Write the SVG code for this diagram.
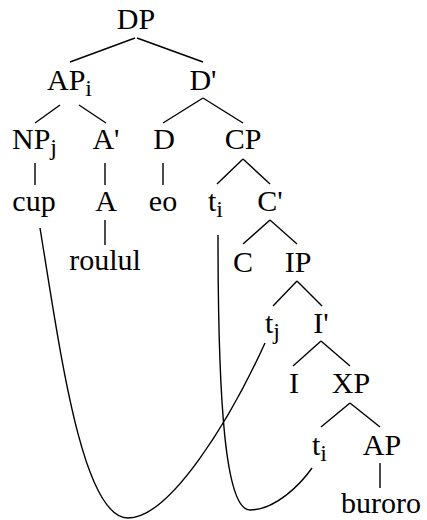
<svg xmlns="http://www.w3.org/2000/svg" width="427" height="520" viewBox="0 0 427 520">
<style>
text{font-family:"Liberation Serif","Times New Roman",serif;font-size:30px;fill:#000}
.m{text-anchor:middle}
.s{font-size:24px}
line,path{stroke:#000;stroke-width:1.4;fill:none}
</style>
<rect width="427" height="520" fill="#fff"/>
<g id="connectors">
<line x1="135" y1="38" x2="70" y2="62"/>
<line x1="137" y1="38" x2="203" y2="62"/>
<line x1="60" y1="105" x2="35" y2="123"/>
<line x1="79" y1="105" x2="106" y2="123"/>
<line x1="203" y1="98" x2="163" y2="123"/>
<line x1="203" y1="98" x2="243" y2="123"/>
<line x1="35" y1="163" x2="35" y2="185"/>
<line x1="105" y1="163" x2="105" y2="185"/>
<line x1="163" y1="163" x2="163" y2="185"/>
<line x1="243" y1="159" x2="217" y2="184"/>
<line x1="243" y1="159" x2="270" y2="184"/>
<line x1="105" y1="220" x2="105" y2="245"/>
<line x1="270" y1="220" x2="243" y2="244"/>
<line x1="270" y1="220" x2="297" y2="244"/>
<line x1="297" y1="281" x2="273" y2="306"/>
<line x1="297" y1="281" x2="322" y2="306"/>
<line x1="321" y1="341" x2="293" y2="366"/>
<line x1="321" y1="341" x2="350" y2="366"/>
<line x1="350" y1="403" x2="321" y2="427"/>
<line x1="350" y1="403" x2="380" y2="427"/>
<line x1="380" y1="463" x2="380" y2="488"/>
<path d="M40,228 C60,350 82,518 128,518 C170,518 230,420 265,343"/>
<path d="M218,235 C218,400 225,510 250,510 C275,510 300,485 312,468"/>
</g>
<g id="DP"><text class="m" x="136" y="29">DP</text></g>
<g id="APi"><text x="47" y="90">AP<tspan class="s" dy="6">i</tspan></text></g>
<g id="Dbar"><text class="m" x="203" y="90">D'</text></g>
<g id="NPj"><text x="12" y="149">NP<tspan class="s" dy="6">j</tspan></text></g>
<g id="Abar"><text class="m" x="106" y="149">A'</text></g>
<g id="D"><text class="m" x="164" y="149">D</text></g>
<g id="CP"><text class="m" x="243" y="149">CP</text></g>
<g id="cup"><text class="m" x="34" y="211">cup</text></g>
<g id="A"><text class="m" x="106" y="211">A</text></g>
<g id="eo"><text class="m" x="163" y="211">eo</text></g>
<g id="ti1"><text x="208" y="211">t<tspan class="s" dy="6">i</tspan></text></g>
<g id="Cbar"><text class="m" x="270" y="211">C'</text></g>
<g id="roulul"><text class="m" x="105" y="270">roulul</text></g>
<g id="C"><text class="m" x="243" y="272">C</text></g>
<g id="IP"><text class="m" x="298" y="272">IP</text></g>
<g id="tj"><text x="265" y="333">t<tspan class="s" dy="6">j</tspan></text></g>
<g id="Ibar"><text class="m" x="321" y="333">I'</text></g>
<g id="I"><text class="m" x="294" y="393">I</text></g>
<g id="XP"><text class="m" x="351" y="393">XP</text></g>
<g id="ti2"><text x="312" y="455">t<tspan class="s" dy="6">i</tspan></text></g>
<g id="AP"><text class="m" x="382" y="455">AP</text></g>
<g id="buroro"><text class="m" x="381" y="513">buroro</text></g>
</svg>
